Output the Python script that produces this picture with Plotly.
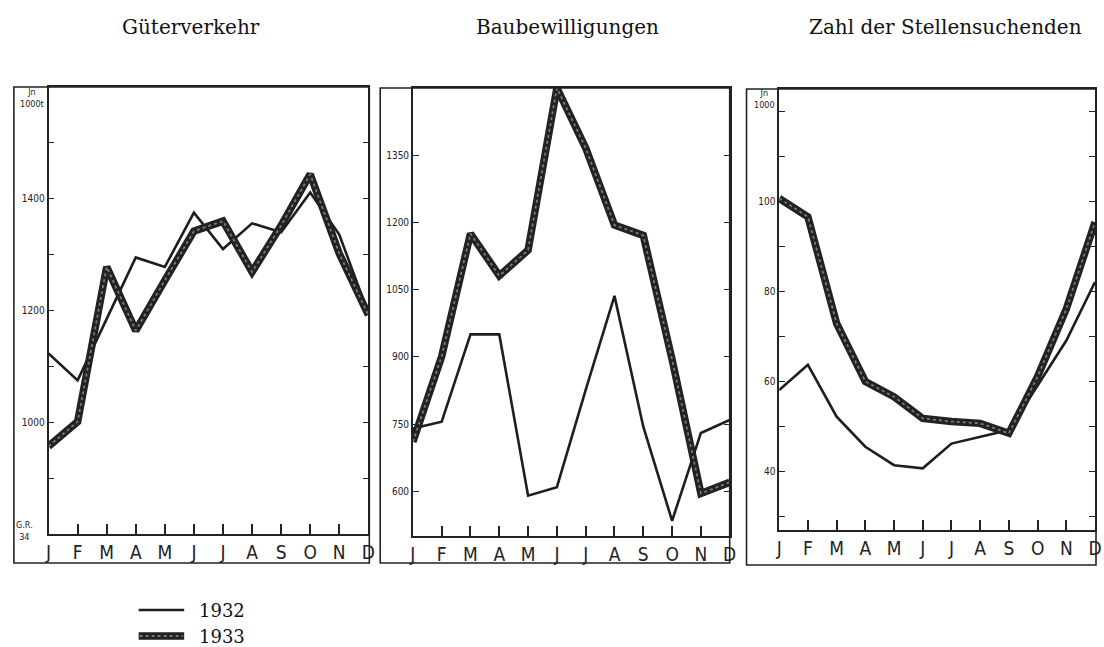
import plotly.graph_objects as go

W, H = 1104, 647

months = ["J", "F", "M", "A", "M", "J", "J", "A", "S", "O", "N", "D"]
month_pos = list(range(12))

gueter_1932 = [1123, 1075, 1185, 1295, 1278, 1375, 1310, 1356, 1340, 1411, 1336, 1195]
gueter_1933 = [957, 1001, 1278, 1164, 1254, 1342, 1360, 1269, 1352, 1444, 1302, 1192]

bau_1932 = [740, 755, 950, 950, 590, 609, 826, 1036, 744, 534, 730, 759]
bau_1933 = [710, 901, 1175, 1081, 1138, 1500, 1366, 1194, 1171, 894, 595, 620]

stellen_1932 = [58, 63.6, 52.1, 45.4, 41.3, 40.6, 46.1, 47.6, 49.1, 59, 69, 82]
stellen_1933 = [100.6, 96.5, 72.8, 59.9, 56.5, 51.7, 51.0, 50.6, 48.4, 61, 76, 95.3]

titles = ["Güterverkehr", "Baubewilligungen", "Zahl der Stellensuchenden"]
years = ["1932", "1933"]

gueter_ticks = [900, 1000, 1100, 1200, 1300, 1400, 1500]
gueter_labels = ["", "1000", "", "1200", "", "1400", ""]
bau_ticks = [600, 750, 900, 1050, 1200, 1350]
bau_labels = ["600", "750", "900", "1050", "1200", "1350"]
stellen_ticks = [30, 40, 50, 60, 70, 80, 90, 100, 110, 120]
stellen_labels = ["", "40", "", "60", "", "80", "", "100", "", ""]


def px(x):
    return x / W


def py(y):
    return 1 - y / H


# panel geometry in pixels: (left, right, top, bottom) of plot area, and outer frame
panels = [
    dict(area=(45, 368, 87, 534), frame=(10, 369, 87, 563), yr=[800, 1600],
         data=(gueter_1932, gueter_1933), ticks=(gueter_ticks, gueter_labels)),
    dict(area=(413, 733, 88, 536), frame=(380, 733, 88, 563), yr=[500, 1500],
         data=(bau_1932, bau_1933), ticks=(bau_ticks, bau_labels)),
    dict(area=(783, 1102, 89, 530), frame=(750, 1103, 89, 565), yr=[26.9, 124.9],
         data=(stellen_1932, stellen_1933), ticks=(stellen_ticks, stellen_labels)),
]
title_x = [189, 569, 951]

fig = go.Figure()
shapes = []
annotations = []
tick_font = dict(family="DejaVu Sans Condensed, DejaVu Sans", size=10, color="#222")
month_font = dict(family="Liberation Sans Narrow, DejaVu Sans Condensed, DejaVu Sans", size=19, color="#222")
serif = "DejaVu Serif, Liberation Serif, serif"

for i, p in enumerate(panels):
    n = "" if i == 0 else str(i + 1)
    xa, ya = "x" + n, "y" + n
    l, r, t, b = p["area"]
    thin, thick = p["data"]
    fig.add_trace(go.Scatter(x=month_pos, y=thin, mode="lines", xaxis=xa, yaxis=ya,
                             line=dict(color="#1e1e1e", width=2.6), name=years[0],
                             showlegend=False, hoverinfo="skip"))
    fig.add_trace(go.Scatter(x=month_pos, y=thick, mode="lines", xaxis=xa, yaxis=ya,
                             line=dict(color="#222222", width=7.5), name=years[1],
                             showlegend=False, hoverinfo="skip"))
    fig.add_trace(go.Scatter(x=month_pos, y=thick, mode="lines", xaxis=xa, yaxis=ya,
                             line=dict(color="#7a7a7a", width=1.8, dash="dot"),
                             showlegend=False, hoverinfo="skip"))
    tv, tt = p["ticks"]
    fig.update_layout(**{
        "xaxis" + n: dict(domain=[px(l), px(r)], range=[0, 11], tickvals=month_pos,
                          ticktext=months, ticks="inside", ticklen=10, tickwidth=1.5,
                          tickcolor="#222", showline=True, linecolor="#222", linewidth=1.6,
                          mirror=True, showgrid=False, zeroline=False, anchor=ya,
                          tickfont=month_font, fixedrange=True),
        "yaxis" + n: dict(domain=[py(b), py(t)], range=p["yr"], tickvals=tv, ticktext=tt,
                          ticks="inside", ticklen=6, tickwidth=1.2, tickcolor="#222",
                          showline=True, linecolor="#222", linewidth=1.6, mirror="ticks",
                          showgrid=False, zeroline=False, anchor=xa, tickfont=tick_font,
                          fixedrange=True),
    })
    fl, fr, ft, fb = p["frame"]
    shapes.append(dict(type="rect", xref="paper", yref="paper", x0=px(fl), x1=px(fr),
                       y0=py(fb), y1=py(ft), line=dict(color="#222", width=1.6)))
    annotations.append(dict(text=titles[i], x=px(title_x[i]), y=py(27), xref="paper",
                            yref="paper", showarrow=False, xanchor="center", yanchor="middle",
                            font=dict(family=serif, size=20, color="#111")))

small = dict(family="DejaVu Sans Condensed, DejaVu Sans", size=9, color="#222")
annotations.append(dict(text="Jn<br>1000t", x=px(28), y=py(98), xref="paper", yref="paper",
                        showarrow=False, font=small, xanchor="center", yanchor="middle"))
annotations.append(dict(text="G.R.<br>34", x=px(21), y=py(531), xref="paper", yref="paper",
                        showarrow=False, font=small, xanchor="center", yanchor="middle"))
annotations.append(dict(text="Jn<br>1000", x=px(768), y=py(99), xref="paper", yref="paper",
                        showarrow=False, font=small, xanchor="center", yanchor="middle"))

# legend
leg_y = [610, 636]
shapes.append(dict(type="line", xref="paper", yref="paper", x0=px(136), x1=px(182),
                   y0=py(leg_y[0]), y1=py(leg_y[0]), line=dict(color="#1e1e1e", width=2.6)))
shapes.append(dict(type="line", xref="paper", yref="paper", x0=px(136), x1=px(182),
                   y0=py(leg_y[1]), y1=py(leg_y[1]), line=dict(color="#222222", width=7.5)))
shapes.append(dict(type="line", xref="paper", yref="paper", x0=px(137), x1=px(181),
                   y0=py(leg_y[1]), y1=py(leg_y[1]),
                   line=dict(color="#7a7a7a", width=1.8, dash="dot")))
for yv, lab in zip(leg_y, years):
    annotations.append(dict(text=lab, x=px(195), y=py(yv), xref="paper", yref="paper",
                            showarrow=False, xanchor="left", yanchor="middle",
                            font=dict(family=serif, size=18, color="#111")))

fig.update_layout(width=W, height=H, margin=dict(l=0, r=0, t=0, b=0),
                  paper_bgcolor="white", plot_bgcolor="white", showlegend=False,
                  shapes=shapes, annotations=annotations)

fig.write_html("out.html", config={"displayModeBar": False},
               post_script="document.body.style.margin='0';"
                           "document.body.style.overflow='hidden';")
